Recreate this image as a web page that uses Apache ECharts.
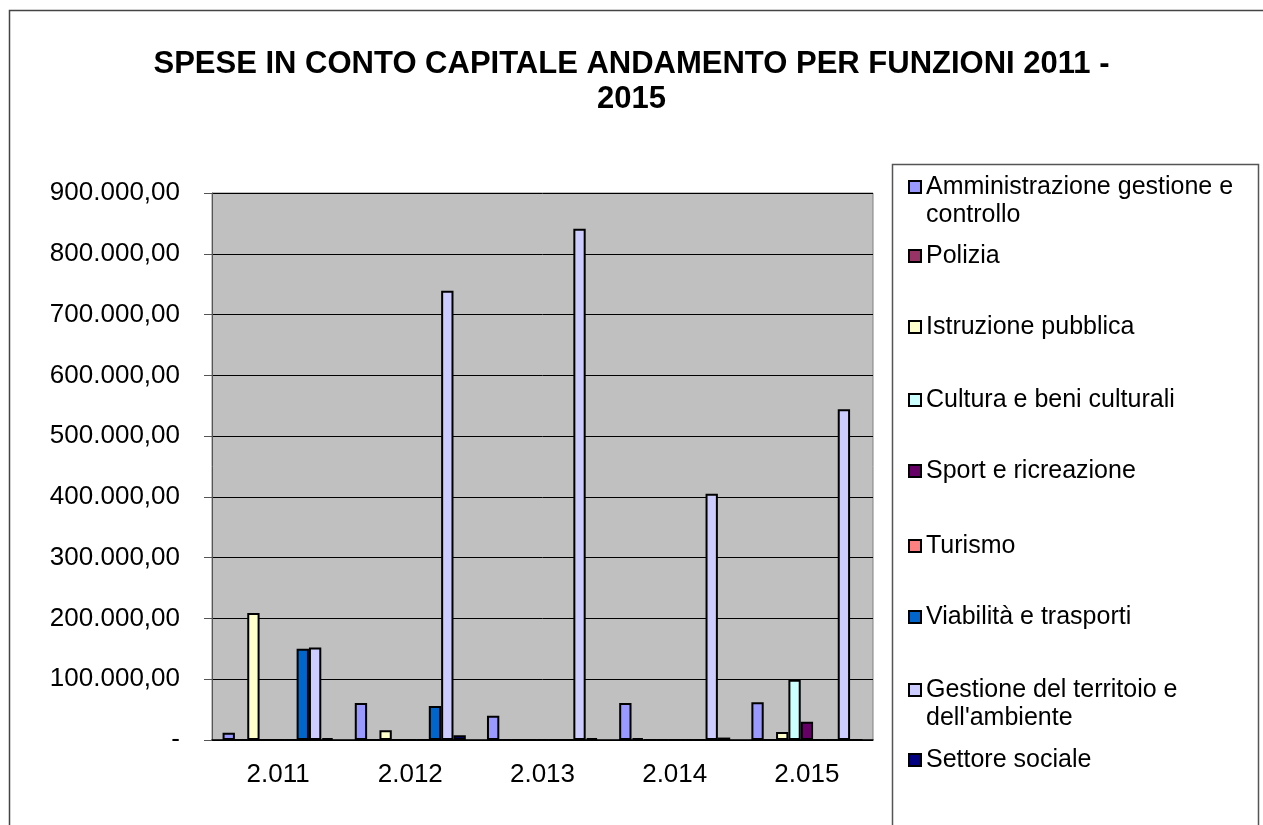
<!DOCTYPE html>
<html>
<head>
<meta charset="utf-8">
<title>Spese in conto capitale</title>
<script src="https://cdn.jsdelivr.net/npm/echarts@6/dist/echarts.min.js"></script>
<style>
  html, body { margin: 0; padding: 0; background: #fff; }
  #chart { width: 1263px; height: 825px; }
</style>
</head>
<body>
<div id="chart"></div>
<script>
// categorie (anni)
var anni = ['2.011', '2.012', '2.013', '2.014', '2.015'];

// valori per funzione
var amministrazione = [12000, 61000, 40000, 61000, 62000];
var polizia = [0, 0, 0, 3000, 0];
var istruzione = [209000, 16000, 0, 0, 13000];
var cultura = [0, 0, 0, 0, 99000];
var sport = [0, 0, 0, 0, 30000];
var turismo = [0, 0, 0, 0, 0];
var viabilita = [150000, 56000, 0, 0, 0];
var territorio = [152000, 739000, 841000, 405000, 544000];
var sociale = [3000, 8000, 3000, 4000, 0];

var nomi = [
    'Amministrazione gestione e controllo',
    'Polizia',
    'Istruzione pubblica',
    'Cultura e beni culturali',
    'Sport e ricreazione',
    'Turismo',
    'Viabilità e trasporti',
    'Gestione del territoio e dell\'ambiente',
    'Settore sociale'
];
var valori = [amministrazione, polizia, istruzione, cultura, sport, turismo, viabilita, territorio, sociale];
var colori = ['#9999ff', '#993366', '#ffffcc', '#ccffff', '#660066', '#ff8080', '#0066cc', '#ccccff', '#000080'];

// testo della legenda (a capo come nell'originale)
var etichette = {
    'Amministrazione gestione e controllo': 'Amministrazione gestione e\ncontrollo',
    'Gestione del territoio e dell\'ambiente': 'Gestione del territoio e\ndell\'ambiente'
};
// centro verticale di ogni voce della legenda
var legendaY = [187, 256, 327, 400, 471, 546, 617, 690, 760];

var chart = echarts.init(document.getElementById('chart'));

function formatta(v) {
    if (v === 0) return '-';
    var s = Math.round(v).toString().replace(/\B(?=(\d{3})+(?!\d))/g, '.');
    return s + ',00';
}

var LH = 28;
var legende = nomi.map(function(n, i) {
    var doppia = !!etichette[n];
    return {
        data: [n],
        left: 908,
        top: legendaY[i] - (doppia ? 1.5 * LH : LH / 2),
        padding: 0,
        itemWidth: 12,
        itemHeight: 12,
        itemGap: 0,
        icon: 'rect',
        // riga vuota in testa: così la prima riga resta allineata al quadratino
        formatter: function(name) { return etichette[name] ? ' \n' + etichette[name] : name; },
        textStyle: {
            fontFamily: 'Liberation Sans',
            fontSize: 25,
            color: '#000',
            lineHeight: LH
        }
    };
});

var serie = nomi.map(function(n, i) {
    return {
        name: n,
        type: 'bar',
        barGap: 0,
        barCategoryGap: '16%',
        itemStyle: { color: colori[i], borderColor: '#000', borderWidth: 2 },
        data: valori[i]
    };
});

var option = {
    animation: false,
    backgroundColor: '#fff',
    title: {
        text: 'SPESE IN CONTO CAPITALE ANDAMENTO PER FUNZIONI 2011 -\n2015',
        left: 'center',
        top: 42,
        textStyle: {
            fontFamily: 'Liberation Sans',
            fontSize: 31,
            fontWeight: 'bold',
            color: '#000',
            lineHeight: 35,
            align: 'center'
        }
    },
    legend: legende,
    grid: {
        left: 212,
        top: 193,
        width: 661,
        height: 547,
        show: true,
        backgroundColor: '#c0c0c0',
        borderColor: '#808080',
        borderWidth: 1
    },
    xAxis: {
        type: 'category',
        data: anni,
        axisLine: { lineStyle: { color: '#000', width: 1.5 } },
        axisTick: { length: 8, lineStyle: { color: '#555' } },
        axisLabel: { fontFamily: 'Liberation Sans', fontSize: 26, color: '#000', margin: 22 }
    },
    yAxis: {
        type: 'value',
        min: 0,
        max: 900000,
        interval: 100000,
        axisLine: { show: true, lineStyle: { color: '#555' } },
        axisTick: { show: true, length: 8, lineStyle: { color: '#555' } },
        splitLine: { lineStyle: { color: '#000', width: 1 } },
        axisLabel: {
            fontFamily: 'Liberation Sans',
            fontSize: 26,
            color: '#000',
            margin: 32,
            formatter: formatta
        }
    },
    graphic: [
        {
            type: 'rect',
            shape: { x: 9.5, y: 10.5, width: 1300, height: 900 },
            style: { fill: 'none', stroke: '#444', lineWidth: 1.5 },
            silent: true, z: -1
        },
        {
            type: 'rect',
            shape: { x: 892.5, y: 164.5, width: 366, height: 700 },
            style: { fill: 'none', stroke: '#555', lineWidth: 1.5 },
            silent: true, z: -1
        }
    ],
    series: serie
};

chart.setOption(option);
</script>
</body>
</html>
